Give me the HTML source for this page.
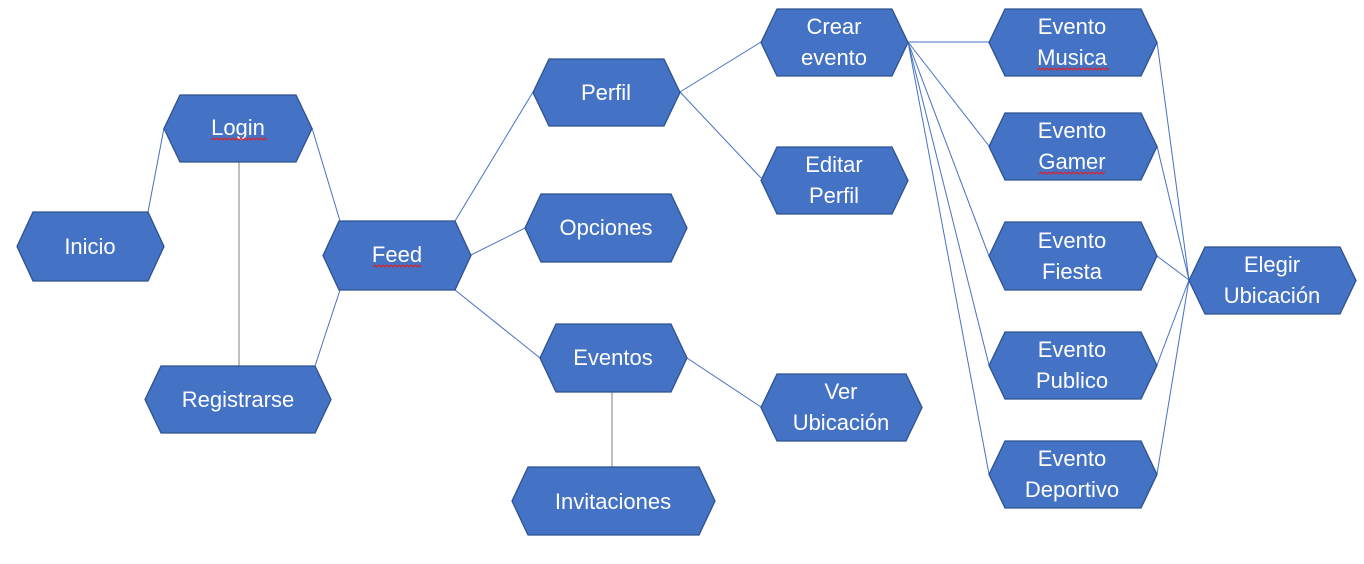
<!DOCTYPE html>
<html><head><meta charset="utf-8"><style>
html,body{margin:0;padding:0;background:#fff;}
svg{display:block;}
text{font-family:"Liberation Sans",sans-serif;font-size:22px;fill:#fff;text-anchor:middle;}
.h{fill:#4472C4;stroke:#2F528F;stroke-width:1.3;}
.l{stroke:#4472C4;stroke-width:1;fill:none;}
.g{stroke:#7f7f7f;stroke-width:1;}
.w{stroke:#e02020;stroke-width:1;fill:none;}
</style></head><body>
<svg width="1364" height="564" viewBox="0 0 1364 564">
<g class="l">
<line x1="148" y1="212" x2="164" y2="128"/>
<line x1="312" y1="128" x2="340" y2="221"/>
<line x1="315" y1="366" x2="340" y2="290"/>
<line x1="455" y1="221" x2="533" y2="92"/>
<line x1="471" y1="255" x2="525" y2="228"/>
<line x1="455" y1="290" x2="540" y2="358"/>
<line x1="687" y1="358" x2="761" y2="407"/>
<line x1="680" y1="92" x2="761" y2="42"/>
<line x1="680" y1="92" x2="761" y2="178"/>
<line x1="908" y1="42" x2="989" y2="42"/>
<line x1="908" y1="42" x2="989" y2="146"/>
<line x1="908" y1="42" x2="989" y2="256"/>
<line x1="908" y1="42" x2="989" y2="365"/>
<line x1="908" y1="42" x2="989" y2="474"/>
<line x1="1157" y1="42" x2="1189" y2="280"/>
<line x1="1157" y1="146" x2="1189" y2="280"/>
<line x1="1157" y1="256" x2="1189" y2="280"/>
<line x1="1157" y1="365" x2="1189" y2="280"/>
<line x1="1157" y1="474" x2="1189" y2="280"/>
</g>
<line class="g" x1="239" y1="162" x2="239" y2="366"/>
<line class="g" x1="612" y1="392" x2="612" y2="467"/>
<polygon class="h" points="33,212 148,212 164,246.5 148,281 33,281 17,246.5"/>
<polygon class="h" points="180,95 296,95 312,128.5 296,162 180,162 164,128.5"/>
<polygon class="h" points="161,366 315,366 331,399.5 315,433 161,433 145,399.5"/>
<polygon class="h" points="339,221 455,221 471,255.5 455,290 339,290 323,255.5"/>
<polygon class="h" points="549,59 664,59 680,92.5 664,126 549,126 533,92.5"/>
<polygon class="h" points="541,194 671,194 687,228 671,262 541,262 525,228"/>
<polygon class="h" points="556,324 671,324 687,358 671,392 556,392 540,358"/>
<polygon class="h" points="528,467 699,467 715,501 699,535 528,535 512,501"/>
<polygon class="h" points="777,9 892,9 908,42.5 892,76 777,76 761,42.5"/>
<polygon class="h" points="777,147 892,147 908,180.5 892,214 777,214 761,180.5"/>
<polygon class="h" points="777,374 906,374 922,407.5 906,441 777,441 761,407.5"/>
<polygon class="h" points="1005,9 1141,9 1157,42.5 1141,76 1005,76 989,42.5"/>
<polygon class="h" points="1005,113 1141,113 1157,146.5 1141,180 1005,180 989,146.5"/>
<polygon class="h" points="1005,222 1141,222 1157,256 1141,290 1005,290 989,256"/>
<polygon class="h" points="1005,332 1141,332 1157,365.5 1141,399 1005,399 989,365.5"/>
<polygon class="h" points="1005,441 1141,441 1157,474.5 1141,508 1005,508 989,474.5"/>
<polygon class="h" points="1205,247 1340,247 1356,280.5 1340,314 1205,314 1189,280.5"/>
<text x="90" y="254">Inicio</text>
<text x="238" y="135">Login</text>
<text x="238" y="407">Registrarse</text>
<text x="397" y="262">Feed</text>
<text x="606" y="100">Perfil</text>
<text x="606" y="235">Opciones</text>
<text x="613" y="365">Eventos</text>
<text x="613" y="509">Invitaciones</text>
<text x="834" y="34">Crear</text><text x="834" y="65">evento</text>
<text x="834" y="172">Editar</text><text x="834" y="203">Perfil</text>
<text x="841" y="399">Ver</text><text x="841" y="430">Ubicación</text>
<text x="1072" y="34">Evento</text><text x="1072" y="65">Musica</text>
<text x="1072" y="138">Evento</text><text x="1072" y="169">Gamer</text>
<text x="1072" y="248">Evento</text><text x="1072" y="279">Fiesta</text>
<text x="1072" y="357">Evento</text><text x="1072" y="388">Publico</text>
<text x="1072" y="466">Evento</text><text x="1072" y="497">Deportivo</text>
<text x="1272" y="272">Elegir</text><text x="1272" y="303">Ubicación</text>
<g class="w">
<polyline points="211,140 213,138 215,140 217,138 219,140 221,138 223,140 225,138 227,140 229,138 231,140 233,138 235,140 237,138 239,140 241,138 243,140 245,138 247,140 249,138 251,140 253,138 255,140 257,138 259,140 261,138 263,140 265,138 267,140"/>
<polyline points="373,267 375,265 377,267 379,265 381,267 383,265 385,267 387,265 389,267 391,265 393,267 395,265 397,267 399,265 401,267 403,265 405,267 407,265 409,267 411,265 413,267 415,265 417,267 419,265 421,267"/>
<polyline points="1037,70 1039,68 1041,70 1043,68 1045,70 1047,68 1049,70 1051,68 1053,70 1055,68 1057,70 1059,68 1061,70 1063,68 1065,70 1067,68 1069,70 1071,68 1073,70 1075,68 1077,70 1079,68 1081,70 1083,68 1085,70 1087,68 1089,70 1091,68 1093,70 1095,68 1097,70 1099,68 1101,70 1103,68 1105,70 1107,68 1109,70"/>
<polyline points="1039,174 1041,172 1043,174 1045,172 1047,174 1049,172 1051,174 1053,172 1055,174 1057,172 1059,174 1061,172 1063,174 1065,172 1067,174 1069,172 1071,174 1073,172 1075,174 1077,172 1079,174 1081,172 1083,174 1085,172 1087,174 1089,172 1091,174 1093,172 1095,174 1097,172 1099,174 1101,172 1103,174 1105,172"/>
</g>
</svg>
</body></html>
